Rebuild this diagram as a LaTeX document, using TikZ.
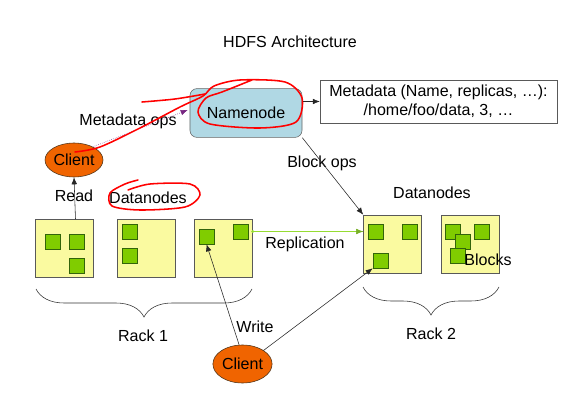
\documentclass[tikz,border=0pt]{standalone}
\usepackage{fontspec}
\setmainfont{Liberation Sans}
\usetikzlibrary{shapes.geometric,decorations.pathreplacing,calc,arrows.meta}

\definecolor{nnblue}{RGB}{176,216,228}
\definecolor{dnyellow}{RGB}{250,250,160}
\definecolor{blkgreen}{RGB}{128,204,0}
\definecolor{blkdark}{RGB}{50,100,10}
\definecolor{clorange}{RGB}{240,100,0}
\definecolor{repgreen}{RGB}{150,220,50}
\definecolor{opspurple}{RGB}{120,40,130}

\tikzset{
  every node/.style={font=\fontsize{11.4}{13.5}\selectfont},
  namebox/.style={draw=gray!80!black, fill=nnblue, rounded corners=5pt,
    minimum width=2.8cm, minimum height=1.22cm},
  metabox/.style={draw=gray!70!black, fill=white, align=center,
    minimum width=5.92cm, minimum height=1.07cm, inner sep=1pt},
  datanode/.style={draw=gray!70!black, fill=dnyellow,
    minimum width=1.45cm, minimum height=1.45cm},
  blk/.style={draw=blkdark, fill=blkgreen, minimum size=0.375cm, inner sep=0pt},
  client/.style={ellipse, draw=black!60!brown, fill=clorange, inner sep=0pt},
  conn/.style={-{Latex[length=5pt,width=4pt]}, gray!30!black},
  rackbrace/.style={decorate, decoration={brace, mirror, amplitude=0.7cm},
    gray!40!black},
  scribble/.style={red, line width=1.1pt, line cap=round}
}

\begin{document}
\begin{tikzpicture}[x=0.025cm, y=-0.025cm]

  \useasboundingbox (0,0) rectangle (587,420);

  % 1. titolo
  \node (title) at (290,42) {HDFS Architecture};

  % 2. namenode e metadati
  \node[namebox] (namenode) at (246,113) {Namenode};
  \node[metabox] (meta) at (438.5,101.5)
    {Metadata (Name, replicas, \dots):\\ /home/foo/data, 3, \dots};
  \draw[conn] (namenode.east |- meta.west) -- (meta.west);

  % 3. client in alto e client in basso
  \node[client, minimum width=1.45cm, minimum height=0.85cm] (client1) at (74,160) {Client};
  \node[client, minimum width=1.48cm, minimum height=0.95cm] (client2) at (242.5,364) {Client};

  % 4. datanode rack 1 e rack 2
  \node[datanode] (dn1) at (64.5,248.5) {};
  \node[datanode] (dn2) at (146.5,248.5) {};
  \node[datanode] (dn3) at (223.5,248.5) {};
  \node[datanode] (dn4) at (392.5,244) {};
  \node[datanode] (dn5) at (470,244) {};

  % 5. blocchi
  \node[blk] (b11) at (53,241.5) {};
  \node[blk] (b12) at (77,241.5) {};
  \node[blk] (b13) at (77,265.5) {};
  \node[blk] (b21) at (129.5,232) {};
  \node[blk] (b22) at (129.5,256) {};
  \node[blk] (b31) at (206.5,236.5) {};
  \node[blk] (b32) at (240.5,231.5) {};
  \node[blk] (b41) at (375.5,231.5) {};
  \node[blk] (b42) at (409.5,231.5) {};
  \node[blk] (b43) at (380.5,260.5) {};
  \node[blk] (b51) at (453,231.5) {};
  \node[blk] (b52) at (481.5,231.5) {};
  \node[blk] (b53) at (462.5,241.5) {};
  \node[blk] (b54) at (457.5,255.5) {};

  % 6. etichette
  \node (metaops) at (128,121) {Metadata ops};
  \node (read) at (74,196) {Read};
  \node (dnleft) at (148,198) {Datanodes};
  \node (blockops) at (322,163) {Block ops};
  \node (repl) at (305,244) {Replication};
  \node (dnright) at (432,193) {Datanodes};
  \node (blocks) at (488,260) {Blocks};
  \node (write) at (255,327) {Write};
  \node (rack1) at (143,336) {Rack 1};
  \node (rack2) at (431,334) {Rack 2};

  % 7. frecce
  \draw[conn, opspurple, densely dotted] (client1.35) -- ($(namenode.west)+(-2,-3)$);
  \draw[conn] ($(dn1.north)+(11,0)$) -- (client1.south);
  \draw[conn] (namenode.south east) -- (dn4.north west);
  \draw[repgreen, thick] (dn3.east |- b32) -- (dn4.west |- b41);
  \fill[repgreen] (dn3.east |- b32) circle (1.6);
  \draw[-{Latex[length=5pt,width=4pt]}, repgreen!80!black] ($(dn4.west |- b41)+(-4,0)$) -- (dn4.west |- b41);
  \draw[conn] (client2.100) -- (b31.south);
  \draw[conn] (client2.north east) -- (b43.south west);

  % 8. parentesi dei rack
  \draw[rackbrace] (36,289) -- (252,289);
  \draw[rackbrace] (363,287) -- (499,287);

  % 9. segni a mano in rosso
  \draw[scribble] plot[smooth] coordinates {(142,102) (175,99) (205,94)};
  \draw[scribble] plot[smooth] coordinates {(75,152) (100,147) (140,128) (180,107) (203,96)
    (214,86) (240,80) (285,82) (302,98) (296,122) (260,128) (210,124) (198,112) (206,98) (222,92) (252,80)};
  \draw[scribble] plot[smooth] coordinates {(138,180) (125,184) (110,193) (112,206) (140,210)
    (185,207) (200,195) (190,184) (150,184) (128,190)};

\end{tikzpicture}
\end{document}
